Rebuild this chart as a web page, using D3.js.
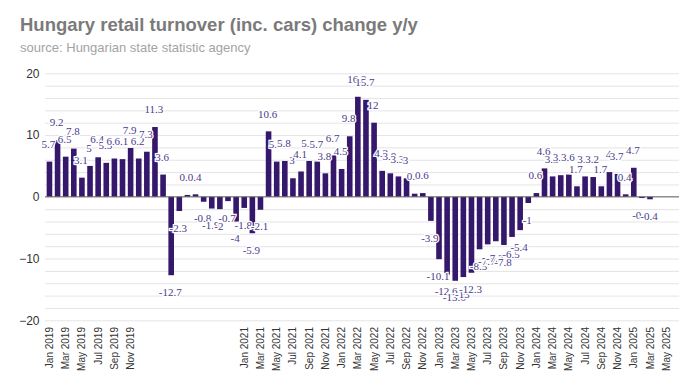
<!DOCTYPE html>
<html lang="en">
<head>
<meta charset="utf-8">
<title>Hungary retail turnover</title>
<script src="https://cdn.jsdelivr.net/npm/d3@7"></script>
<style>
    body { margin: 0; background: #fff; }
    svg { display: block; }
</style>
</head>
<body>
<script>
    var months = [
        "Jan 2019", "Feb 2019", "Mar 2019", "Apr 2019", "May 2019", "Jun 2019", "Jul 2019", "Aug 2019", "Sep 2019", "Oct 2019", "Nov 2019", "Dec 2019",
        "Jan 2020", "Feb 2020", "Mar 2020", "Apr 2020", "May 2020", "Jun 2020", "Jul 2020", "Aug 2020", "Sep 2020", "Oct 2020", "Nov 2020", "Dec 2020",
        "Jan 2021", "Feb 2021", "Mar 2021", "Apr 2021", "May 2021", "Jun 2021", "Jul 2021", "Aug 2021", "Sep 2021", "Oct 2021", "Nov 2021", "Dec 2021",
        "Jan 2022", "Feb 2022", "Mar 2022", "Apr 2022", "May 2022", "Jun 2022", "Jul 2022", "Aug 2022", "Sep 2022", "Oct 2022", "Nov 2022", "Dec 2022",
        "Jan 2023", "Feb 2023", "Mar 2023", "Apr 2023", "May 2023", "Jun 2023", "Jul 2023", "Aug 2023", "Sep 2023", "Oct 2023", "Nov 2023", "Dec 2023",
        "Jan 2024", "Feb 2024", "Mar 2024", "Apr 2024", "May 2024", "Jun 2024", "Jul 2024", "Aug 2024", "Sep 2024", "Oct 2024", "Nov 2024", "Dec 2024",
        "Jan 2025", "Feb 2025", "Mar 2025", "Apr 2025", "May 2025"
    ];
    var change = [
        5.7, 9.2, 6.5, 7.8, 3.1, 5, 6.4, 5.5, 6.2, 6.1, 7.9, 6.2,
        7.3, 11.3, 3.6, -12.7, -2.3, 0.3, 0.4, -0.8, -1.9, -2, -0.7, -4,
        -1.8, -5.9, -2.1, 10.6, 5.7, 5.8, 3, 4.1, 5.8, 5.7, 3.8, 6.7,
        4.5, 9.8, 16.2, 15.7, 12, 4.2, 3.8, 3.3, 3, 0.5, 0.6, -3.9,
        -10.1, -12.6, -13.6, -13, -12.3, -8.5, -7.7, -7.2, -7.8, -6.5, -5.4, -1,
        0.6, 4.6, 3.3, 3.5, 3.6, 1.7, 3.3, 3.2, 1.7, 4, 3.7, 0.4,
        4.7, -0.2, -0.4, null, null
    ];
    var tickLabels = [
        "Jan 2019", "Mar 2019", "May 2019", "Jul 2019", "Sep 2019", "Nov 2019",
        "Jan 2021", "Mar 2021", "May 2021", "Jul 2021", "Sep 2021", "Nov 2021",
        "Jan 2022", "Mar 2022", "May 2022", "Jul 2022", "Sep 2022", "Nov 2022",
        "Jan 2023", "Mar 2023", "May 2023", "Jul 2023", "Sep 2023", "Nov 2023",
        "Jan 2024", "Mar 2024", "May 2024", "Jul 2024", "Sep 2024", "Nov 2024",
        "Jan 2025", "Mar 2025", "May 2025"
    ];
    var yTicks = [-20, -10, 0, 10, 20];

    var w = 700;
    var h = 392;
    var left = 45, right = 679;
    var sans = "'Liberation Sans', Arial, sans-serif";

    var svg = d3.select("body")
        .append("svg")
        .attr("width", w)
        .attr("height", h);

    // title + source
    svg.append("text")
        .attr("x", 20).attr("y", 31)
        .attr("font-family", sans)
        .attr("font-size", "18.5px")
        .attr("font-weight", "bold")
        .attr("fill", "#7a7a7a")
        .text("Hungary retail turnover (inc. cars) change y/y");
    svg.append("text")
        .attr("x", 20).attr("y", 51.5)
        .attr("font-family", sans)
        .attr("font-size", "13px")
        .attr("fill", "#a3a3a3")
        .text("source: Hungarian state statistic agency");

    var data = months.map(function(m, i) { return { month: m, value: change[i] }; });

    var xScale = d3.scaleBand()
        .domain(months)
        .range([45.4, 670.3])
        .paddingInner(0.31)
        .paddingOuter(0.155);
    var yScale = d3.scaleLinear()
        .domain([-20, 20])
        .range([320.3, 73.3]);

    // grid every 2
    svg.append("g")
        .attr("transform", "translate(" + left + ",0)")
        .call(d3.axisLeft(yScale).ticks(20).tickSize(-(right - left)).tickFormat(""))
        .call(function(g) {
            g.select(".domain").remove();
            g.selectAll("line").attr("stroke", "#e4e4e4").attr("stroke-width", 1);
        });

    // y labels
    svg.append("g")
        .attr("transform", "translate(" + left + ",0)")
        .call(d3.axisLeft(yScale).tickValues(yTicks).tickSize(0).tickPadding(5.5))
        .call(function(g) {
            g.select(".domain").remove();
            g.selectAll("text")
                .attr("font-family", sans)
                .attr("font-size", "12px")
                .attr("fill", "#333");
        });

    // x labels
    svg.append("g")
        .attr("transform", "translate(0,320)")
        .call(d3.axisBottom(xScale).tickValues(tickLabels).tickSize(0))
        .call(function(g) {
            g.select(".domain").remove();
            g.selectAll("text")
                .attr("transform", "rotate(-90)")
                .attr("x", -7)
                .attr("y", 0)
                .attr("dy", "0.35em")
                .attr("text-anchor", "end")
                .attr("font-family", sans)
                .attr("font-size", "10px")
                .attr("fill", "#333");
        });

    var valid = data.filter(function(d) { return d.value !== null; });

    svg.selectAll("rect.bar")
        .data(valid)
        .enter()
        .append("rect")
        .attr("class", "bar")
        .attr("x", function(d) { return xScale(d.month); })
        .attr("width", xScale.bandwidth())
        .attr("y", function(d) { return yScale(Math.max(0, d.value)); })
        .attr("height", function(d) { return Math.abs(yScale(d.value) - yScale(0)); })
        .attr("fill", "#35186b");

    // zero line
    svg.append("line")
        .attr("x1", left).attr("x2", right)
        .attr("y1", yScale(0)).attr("y2", yScale(0))
        .attr("stroke", "#666")
        .attr("stroke-width", 1);

    svg.selectAll("text.val")
        .data(valid)
        .enter()
        .append("text")
        .attr("class", "val")
        .attr("x", function(d) { return xScale(d.month) + xScale.bandwidth() / 2 - 1; })
        .attr("y", function(d) {
            return d.value >= 0 ? yScale(d.value) - 13.8 : yScale(d.value) + 20.7;
        })
        .attr("text-anchor", "middle")
        .attr("font-family", "'Liberation Serif', 'Times New Roman', serif")
        .attr("font-size", "11px")
        .attr("fill", "#4b3b8c")
        .attr("stroke", "#fff")
        .attr("stroke-width", 2.5)
        .attr("paint-order", "stroke")
        .text(function(d) { return d.value; });
</script>
</body>
</html>
